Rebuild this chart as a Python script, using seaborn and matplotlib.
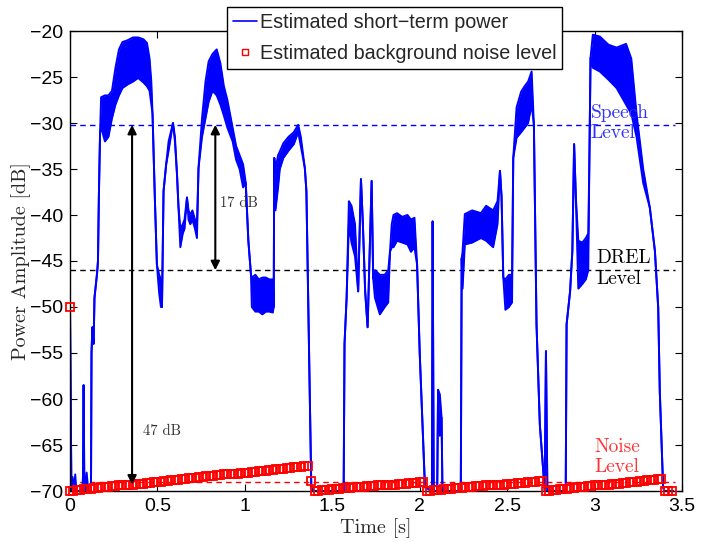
import numpy as np
import seaborn as sns
import matplotlib.pyplot as plt
from matplotlib.lines import Line2D

# ===============================
# DATA
# ===============================
# short-term power: time [s], upper and lower edge of the jitter band [dB]
power_t = [
    0.000, 0.008, 0.015, 0.022, 0.030, 0.036, 0.070, 0.074, 0.078, 0.082,
    0.095, 0.105, 0.120, 0.123, 0.128, 0.135, 0.140, 0.148, 0.155, 0.160,
    0.165, 0.172, 0.178, 0.200, 0.220, 0.240, 0.260, 0.280, 0.300, 0.330,
    0.360, 0.390, 0.420, 0.440, 0.455, 0.465, 0.472, 0.485, 0.497, 0.510,
    0.520, 0.526, 0.535, 0.550, 0.564, 0.589, 0.600, 0.612, 0.620, 0.631,
    0.645, 0.655, 0.669, 0.678, 0.688, 0.700, 0.715, 0.726, 0.735, 0.755,
    0.775, 0.793, 0.815, 0.839, 0.860, 0.880, 0.900, 0.930, 0.950, 0.970,
    0.990, 1.005, 1.020, 1.035, 1.040, 1.060, 1.080, 1.100, 1.120, 1.140,
    1.160, 1.165, 1.168, 1.175, 1.190, 1.200, 1.220, 1.250, 1.280, 1.305,
    1.320, 1.343, 1.352, 1.380, 1.390, 1.565, 1.570, 1.582, 1.595, 1.610,
    1.630, 1.648, 1.664, 1.675, 1.688, 1.702, 1.725, 1.734, 1.744, 1.772,
    1.800, 1.820, 1.830, 1.840, 1.850, 1.870, 1.900, 1.930, 1.950, 1.970,
    1.985, 2.000, 2.030, 2.070, 2.074, 2.080, 2.100, 2.105, 2.115, 2.125,
    2.130, 2.235, 2.240, 2.245, 2.258, 2.300, 2.350, 2.380, 2.420, 2.445,
    2.459, 2.468, 2.478, 2.490, 2.510, 2.528, 2.535, 2.554, 2.580, 2.600,
    2.620, 2.640, 2.653, 2.668, 2.687, 2.706, 2.715, 2.722, 2.730, 2.835,
    2.840, 2.860, 2.873, 2.883, 2.893, 2.907, 2.930, 2.950, 2.964, 2.970,
    2.977, 2.990, 3.030, 3.080, 3.126, 3.180, 3.210, 3.240, 3.278, 3.316,
    3.345, 3.364, 3.373, 3.392, 3.400, 3.450,
]
power_hi = [
    -50.0, -70.0, -68.5, -70.0, -68.2, -70.0, -70.0, -68.5, -58.5, -70.0,
    -68.0, -70.0, -70.0, -55.0, -52.2, -54.0, -49.0, -47.5, -46.3, -45.0,
    -38.1, -31.0, -27.2, -27.0, -27.0, -26.5, -24.0, -22.0, -21.2, -21.0,
    -20.7, -20.7, -20.9, -21.3, -23.0, -25.5, -29.0, -38.0, -45.4, -46.5,
    -47.0, -50.0, -37.4, -34.5, -32.0, -30.0, -31.5, -35.6, -39.0, -41.5,
    -41.0, -40.5, -38.1, -39.5, -40.0, -39.5, -40.5, -41.0, -34.9, -29.5,
    -25.5, -23.3, -22.5, -22.0, -23.5, -26.0, -27.5, -30.5, -32.5, -33.5,
    -34.5, -36.5, -42.8, -46.5, -46.8, -46.5, -47.0, -46.8, -46.8, -47.0,
    -47.0, -50.0, -33.8, -35.0, -33.5, -33.1, -32.2, -31.5, -31.0, -30.2,
    -31.5, -34.9, -37.4, -69.6, -70.0, -70.0, -54.0, -49.0, -38.5, -39.0,
    -41.0, -48.3, -36.1, -41.0, -48.3, -52.2, -36.3, -46.9, -46.0, -46.5,
    -46.5, -46.0, -44.0, -41.0, -40.0, -39.8, -40.2, -40.0, -40.5, -40.3,
    -45.4, -55.0, -69.6, -70.0, -40.7, -70.0, -70.0, -59.0, -59.5, -62.0,
    -70.0, -70.0, -44.7, -44.0, -39.9, -39.5, -39.8, -39.0, -39.5, -38.5,
    -35.2, -38.0, -46.8, -47.0, -46.5, -46.5, -33.8, -28.3, -26.6, -26.0,
    -25.5, -24.4, -30.2, -51.9, -62.8, -67.6, -70.0, -54.8, -70.0, -70.0,
    -51.9, -48.3, -43.9, -32.3, -38.1, -42.8, -43.0, -42.5, -42.0, -34.5,
    -22.9, -20.4, -20.6, -21.5, -21.8, -21.4, -23.0, -29.0, -35.0, -39.2,
    -43.9, -50.1, -59.2, -69.6, -70.0, -70.0,
]
power_lo = [
    -50.0, -70.0, -70.0, -70.0, -70.0, -70.0, -70.0, -70.0, -58.5, -70.0,
    -70.0, -70.0, -70.0, -55.0, -52.2, -54.0, -49.0, -47.5, -46.3, -45.0,
    -38.1, -31.0, -30.5, -32.0, -31.5, -29.5, -28.0, -27.0, -26.2, -25.8,
    -25.5, -25.1, -25.6, -26.0, -26.5, -28.0, -29.0, -38.0, -45.4, -48.5,
    -50.0, -50.0, -37.4, -34.5, -33.0, -30.0, -32.0, -35.6, -39.0, -43.5,
    -42.0, -41.5, -38.1, -40.5, -41.0, -40.5, -41.5, -42.5, -34.9, -31.5,
    -29.5, -27.7, -26.5, -27.0, -28.0, -29.2, -30.5, -32.0, -34.0, -35.0,
    -37.0, -36.5, -42.8, -46.5, -50.0, -50.5, -50.5, -50.8, -50.5, -50.5,
    -50.6, -50.0, -33.8, -39.5, -37.0, -35.0, -33.8, -33.0, -32.3, -31.0,
    -32.5, -34.9, -37.4, -69.6, -70.0, -70.0, -54.0, -49.0, -41.0, -43.0,
    -44.5, -48.3, -36.1, -41.0, -48.3, -52.2, -36.3, -46.9, -49.0, -50.8,
    -50.0, -49.5, -44.0, -43.5, -43.5, -42.8, -43.0, -43.2, -44.0, -43.5,
    -45.4, -55.0, -69.6, -70.0, -40.7, -70.0, -70.0, -59.0, -64.0, -62.0,
    -70.0, -70.0, -44.7, -48.0, -43.2, -43.0, -42.5, -42.8, -43.5, -41.0,
    -35.2, -38.0, -46.8, -50.3, -50.0, -49.5, -33.8, -31.6, -31.0, -30.5,
    -30.0, -28.0, -30.2, -51.9, -62.8, -67.6, -70.0, -54.8, -70.0, -70.0,
    -51.9, -48.3, -43.9, -32.3, -38.1, -48.0, -47.5, -47.0, -46.0, -34.5,
    -22.9, -24.0, -24.4, -25.3, -26.2, -28.0, -29.0, -31.5, -36.5, -39.2,
    -43.9, -50.1, -59.2, -69.6, -70.0, -70.0,
]

# background noise estimate, one value per 20 ms frame
FRAME_HOP = 0.02
noise_starts = [0.00, 1.40, 2.04, 2.72, 3.40]
noise_segments = [
    [-70.0, -70.0, -69.9, -69.9, -69.8, -69.8, -69.8, -69.7, -69.7, -69.6,
     -69.6, -69.6, -69.5, -69.5, -69.4, -69.4, -69.4, -69.3, -69.3, -69.2,
     -69.2, -69.2, -69.1, -69.1, -69.0, -69.0, -69.0, -68.9, -68.9, -68.8,
     -68.8, -68.8, -68.7, -68.7, -68.6, -68.6, -68.6, -68.5, -68.5, -68.4,
     -68.4, -68.4, -68.3, -68.3, -68.2, -68.2, -68.2, -68.1, -68.1, -68.0,
     -68.0, -68.0, -67.9, -67.9, -67.8, -67.8, -67.8, -67.7, -67.7, -67.6,
     -67.6, -67.6, -67.5, -67.5, -67.4, -67.4, -67.4, -67.3, -67.3],
    [-70.0, -70.0, -69.9, -69.9, -69.9, -69.8, -69.8, -69.8, -69.7, -69.7,
     -69.7, -69.6, -69.6, -69.6, -69.6, -69.5, -69.5, -69.5, -69.4, -69.4,
     -69.4, -69.3, -69.3, -69.3, -69.2, -69.2, -69.2, -69.1, -69.1, -69.1,
     -69.0, -69.0],
    [-70.0, -70.0, -69.9, -69.9, -69.9, -69.8, -69.8, -69.8, -69.7, -69.7,
     -69.7, -69.6, -69.6, -69.6, -69.5, -69.5, -69.5, -69.4, -69.4, -69.4,
     -69.3, -69.3, -69.3, -69.2, -69.2, -69.2, -69.1, -69.1, -69.1, -69.0,
     -69.0, -69.0, -68.9, -68.9],
    [-70.0, -70.0, -69.9, -69.9, -69.8, -69.8, -69.8, -69.7, -69.7, -69.6,
     -69.6, -69.6, -69.5, -69.5, -69.4, -69.4, -69.4, -69.3, -69.3, -69.2,
     -69.2, -69.2, -69.1, -69.1, -69.0, -69.0, -69.0, -68.9, -68.9, -68.8,
     -68.8, -68.8, -68.7, -68.7],
    [-70.0, -70.0, -70.0],
]
# single frames outside the ramps
noise_extra_t = [0.00, 1.38]
noise_extra_db = [-50.0, -68.9]

speech_level = -30.2
drel_level = -46.0
noise_level = -69.0

x_ticks = [0, 0.5, 1, 1.5, 2, 2.5, 3, 3.5]
x_tick_labels = ["0", "0.5", "1", "1.5", "2", "2.5", "3", "3.5"]
y_ticks = [-70, -65, -60, -55, -50, -45, -40, -35, -30, -25, -20]
y_tick_labels = ["\u2212" + str(abs(v)) for v in y_ticks]

# ===============================
# PLOT
# ===============================
sns.set_style("ticks")
plt.rcParams["font.family"] = ["Liberation Sans", "DejaVu Sans"]
SERIF = "cmr10"
SQUARE = dict(ls="none", marker="s", ms=5.2, mfc="none", mec="red", mew=1.3)

fig = plt.figure(figsize=(7.13, 5.43), dpi=100)
ax = fig.add_axes([70 / 713, 1 - 491 / 543, 612 / 713, 460 / 543])

# reference levels
ax.hlines(speech_level, 0, 3.46, colors="blue", linestyles=(0, (4, 3)), lw=1.0, zorder=1)
ax.hlines(drel_level, 0, 3.46, colors="black", linestyles=(0, (4, 3)), lw=1.0, zorder=1)
ax.hlines(noise_level, 0, 3.46, colors="red", linestyles=(0, (4, 3)), lw=1.0, zorder=1)

# short-term power
ax.fill_between(power_t, power_lo, power_hi, color="blue", lw=0, zorder=2)
sns.lineplot(x=power_t, y=power_hi, sort=False, estimator=None, color="blue", lw=1.4, ax=ax, zorder=2)
sns.lineplot(x=power_t, y=power_lo, sort=False, estimator=None, color="blue", lw=1.4, ax=ax, zorder=2)

# background noise estimate
for start, seg in zip(noise_starts, noise_segments):
    seg_t = [start + FRAME_HOP * i for i in range(len(seg))]
    ax.plot(seg_t, seg, zorder=3, clip_on=False, **SQUARE)
ax.plot(noise_extra_t, noise_extra_db, zorder=3, clip_on=False, **SQUARE)

# dB range arrows
arrow = dict(arrowstyle="<|-|>", color="black", lw=1.5, mutation_scale=13, shrinkA=0, shrinkB=0)
ax.annotate("", xy=(0.355, speech_level), xytext=(0.355, -69.3), arrowprops=arrow)
ax.annotate("", xy=(0.831, speech_level), xytext=(0.831, drel_level), arrowprops=arrow)
ax.text(0.42, -63.5, "47 dB", family=SERIF, fontsize=10.5, color="#333333", va="center")
ax.text(0.858, -38.75, "17 dB", family=SERIF, fontsize=10.5, color="#333333", va="center")

ax.text(2.977, -30.0, "Speech\nLevel", family=SERIF, fontsize=14, color="#3333ff",
        va="center", linespacing=1.15)
ax.text(3.011, -45.85, "DREL\nLevel", family=SERIF, fontsize=14, color="black",
        va="center", linespacing=1.2)
ax.text(3.0, -66.3, "Noise\nLevel", family=SERIF, fontsize=14, color="#ff3333",
        va="center", linespacing=1.2)

# axes
ax.set_xlim(0, 3.5)
ax.set_ylim(-70, -20)
ax.set_xticks(x_ticks)
ax.set_xticklabels(x_tick_labels)
ax.set_yticks(y_ticks)
ax.set_yticklabels(y_tick_labels)
ax.tick_params(direction="in", top=True, right=True, length=5, width=0.8,
               labelsize=14, pad=5, colors="black")
for sp in ax.spines.values():
    sp.set_visible(True)
    sp.set_linewidth(1.0)
    sp.set_color("black")

ax.set_xlabel("Time [s]", family=SERIF, fontsize=14.5, va="center")
ax.xaxis.set_label_coords(0.5, -0.081)
ax.set_ylabel("Power Amplitude [dB]", family=SERIF, fontsize=14.5, va="center")
ax.yaxis.set_label_coords(-0.08, 0.5)

handles = [
    Line2D([], [], color="blue", lw=1.2),
    Line2D([], [], ls="none", marker="s", ms=4, mfc="none", mec="red", mew=1.0),
]
leg = fig.legend(handles, ["Estimated short\u2212term power", "Estimated background noise level"],
                 loc="upper left", bbox_to_anchor=(227 / 713, 1 - 7 / 543),
                 bbox_transform=fig.transFigure, fancybox=False, framealpha=1,
                 edgecolor="black", fontsize=14.2, handlelength=1.2, handletextpad=0.15,
                 borderpad=0.3, labelspacing=0.6, borderaxespad=0)
leg.get_frame().set_linewidth(1.0)

fig.savefig("out.png", dpi=100)
